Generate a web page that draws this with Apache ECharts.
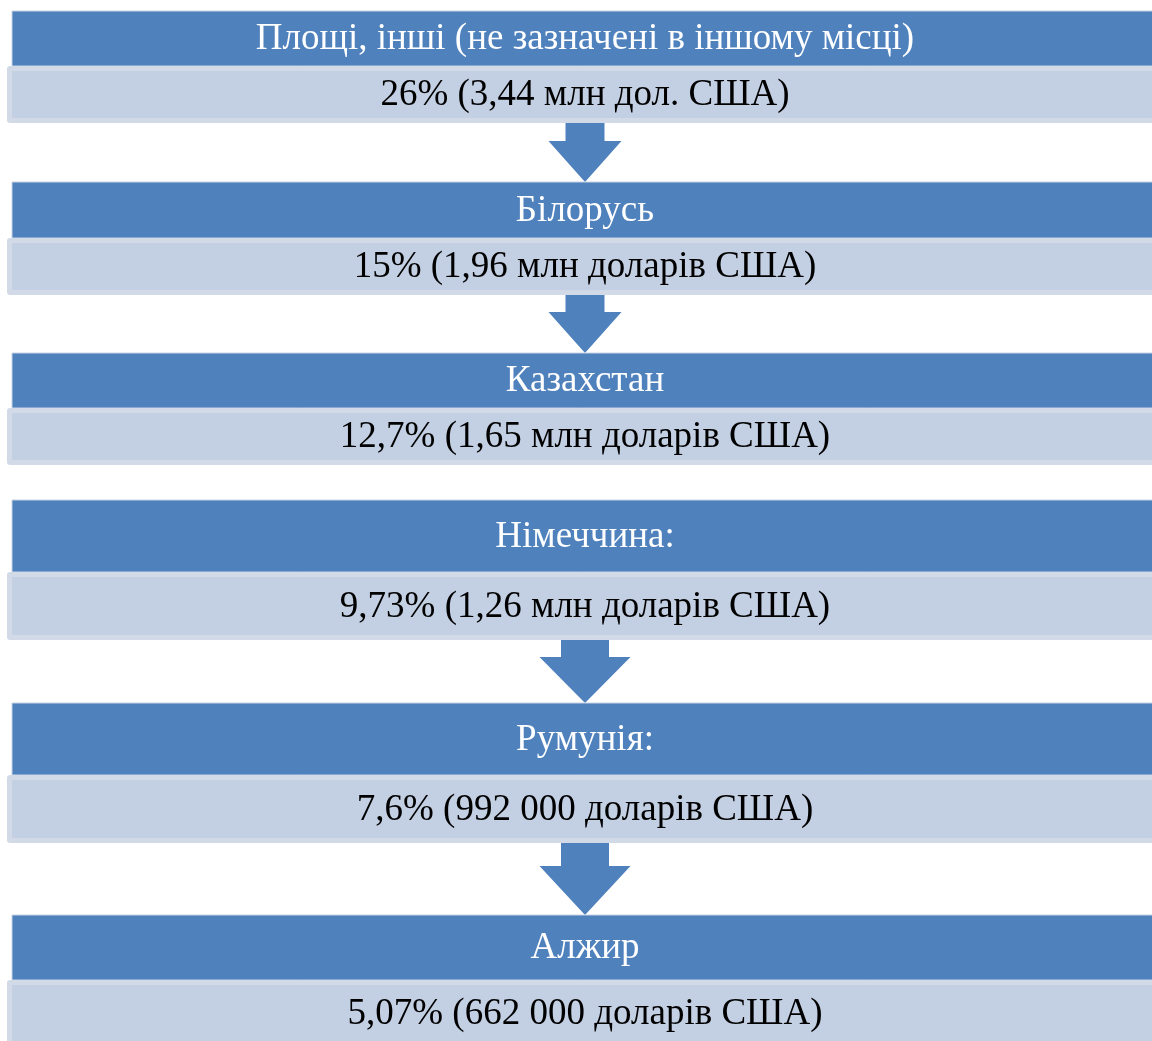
<!DOCTYPE html>
<html>
<head>
<meta charset="utf-8">
<style>
  html, body { margin: 0; padding: 0; background: #ffffff; }
  #chart { width: 1152px; height: 1041px; }
</style>
<script src="https://cdn.jsdelivr.net/npm/echarts@6/dist/echarts.min.js"></script>
</head>
<body>
<div id="chart"></div>
<script>
// Export destinations, in descending order of share
const countries = [
  'Площі, інші (не зазначені в іншому місці)',
  'Білорусь',
  'Казахстан',
  'Німеччина:',
  'Румунія:',
  'Алжир'
];
const shareLabels = [
  '26% (3,44 млн дол. США)',
  '15% (1,96 млн доларів США)',
  '12,7% (1,65 млн доларів США)',
  '9,73% (1,26 млн доларів США)',
  '7,6% (992 000 доларів США)',
  '5,07% (662 000 доларів США)'
];
// Which rows are followed by a down arrow
const arrowAfter = [true, true, false, true, true, false];

// Block layout (pixels): top of header band, header height, detail height
const rowLayout = [
  { top: 11,  head: 55, body: 57 },
  { top: 182, head: 56, body: 57 },
  { top: 353, head: 55, body: 57 },
  { top: 500, head: 72, body: 68 },
  { top: 703, head: 72, body: 68 },
  { top: 915, head: 65, body: 66 }
];
// Arrow shapes: stem width, head width, head length
const arrowLayout = [
  { stem: 39, head: 73, headLen: 41 },
  { stem: 39, head: 73, headLen: 41 },
  null,
  { stem: 48, head: 91, headLen: 46 },
  { stem: 48, head: 91, headLen: 49 },
  null
];

const BLUE = '#4f81bd';
const LIGHT = '#c3cfe2';
const LIGHT_EDGE = '#d2dae8';
const FONT = '"Liberation Serif", "Times New Roman", serif';
const FONT_SIZE = 37;
const CX = 585;

function renderRow(params, api) {
  const i = api.value(0);
  const L = rowLayout[i];
  const W = api.getWidth();
  const children = [];
  const lightTop = L.top + L.head;
  // header band
  children.push({
    type: 'rect',
    shape: { x: 12, y: L.top, width: W, height: L.head },
    style: { fill: BLUE, stroke: '#c9d3e4', lineWidth: 1 }
  });
  // detail box with soft rim
  children.push({
    type: 'rect',
    shape: { x: 7, y: lightTop, width: W + 10, height: L.body, r: 3 },
    style: { fill: LIGHT_EDGE }
  });
  children.push({
    type: 'rect',
    shape: { x: 12, y: lightTop + 5, width: W + 10, height: L.body - 10 },
    style: { fill: LIGHT }
  });
  children.push({
    type: 'text',
    style: {
      x: CX, y: L.top + L.head / 2 + 1,
      text: countries[i],
      fill: '#ffffff',
      font: FONT_SIZE + 'px ' + FONT,
      align: 'center', verticalAlign: 'middle'
    }
  });
  children.push({
    type: 'text',
    style: {
      x: CX, y: lightTop + L.body / 2 + 1,
      text: shareLabels[i],
      fill: '#000000',
      font: FONT_SIZE + 'px ' + FONT,
      align: 'center', verticalAlign: 'middle'
    }
  });
  if (arrowAfter[i] && i + 1 < rowLayout.length) {
    const A = arrowLayout[i];
    const y0 = lightTop + L.body;
    const y1 = rowLayout[i + 1].top;
    const yh = y1 - A.headLen;
    const s = A.stem / 2, h = A.head / 2;
    children.push({
      type: 'polygon',
      shape: {
        points: [
          [CX - s, y0], [CX + s, y0], [CX + s, yh], [CX + h, yh],
          [CX, y1], [CX - h, yh], [CX - s, yh]
        ]
      },
      style: { fill: BLUE },
      z2: -1
    });
  }
  return { type: 'group', children: children };
}

const chart = echarts.init(document.getElementById('chart'), null, { renderer: 'canvas' });
chart.setOption({
  animation: false,
  backgroundColor: '#ffffff',
  series: [{
    type: 'custom',
    coordinateSystem: 'none',
    renderItem: renderRow,
    data: countries.map((c, i) => [i])
  }]
});
</script>
</body>
</html>
